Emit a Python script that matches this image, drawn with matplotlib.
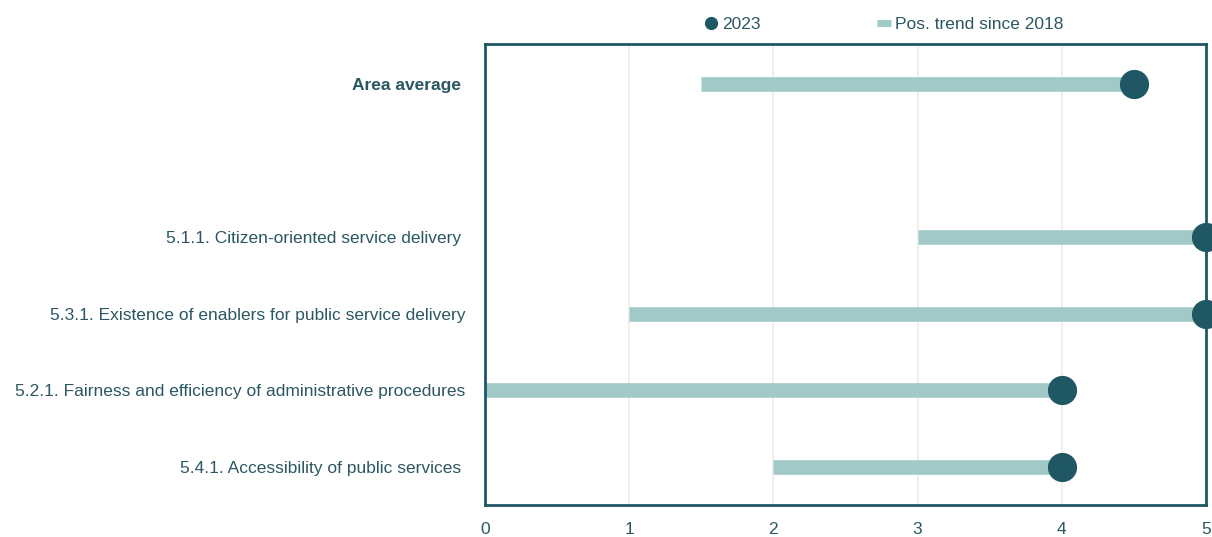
import matplotlib
matplotlib.use("Agg")
import matplotlib.pyplot as plt
from matplotlib.lines import Line2D
from matplotlib import font_manager

names = {f.name for f in font_manager.fontManager.ttflist}
family = "Liberation Sans Narrow" if "Liberation Sans Narrow" in names else "Liberation Sans"
plt.rcParams["font.family"] = [family, "DejaVu Sans"]

labels = [
    "Area average ",
    "5.1.1. Citizen-oriented service delivery ",
    "5.3.1. Existence of enablers for public service delivery",
    "5.2.1. Fairness and efficiency of administrative procedures",
    "5.4.1. Accessibility of public services ",
]
start_2018 = [1.5, 3, 1, 0, 2]
value_2023 = [4.5, 5, 5, 4, 4]
positions = [5, 3, 2, 1, 0]
xticks = [0, 1, 2, 3, 4, 5]

dark = "#1f5765"
light = "#a1c9c8"
text_c = "#2b5763"

fig = plt.figure(figsize=(12.12, 5.37), dpi=100)
ax = fig.add_axes([0.4002, 0.0596, 0.5948, 0.8584])

for y, s, e in zip(positions, start_2018, value_2023):
    ax.plot([s, e], [y, y], color=light, lw=10.5, solid_capstyle="butt", zorder=2, clip_on=False)
    ax.plot([e], [y], "o", color=dark, ms=20, zorder=3, clip_on=False)

ax.set_xlim(0, 5)
ax.set_ylim(-0.5, 5.52)
ax.set_xticks(xticks)
ax.set_xticklabels([str(t) for t in xticks], fontsize=12.5, color=text_c)
ax.set_yticks(positions)
ax.set_yticklabels(labels, fontsize=12.5, color=text_c)
for lbl in ax.get_yticklabels():
    if lbl.get_text().strip() == "Area average":
        lbl.set_fontweight("bold")
ax.tick_params(axis="both", length=0)
ax.tick_params(axis="y", pad=14)
ax.tick_params(axis="x", pad=12)
ax.xaxis.grid(True, color="#ececec", lw=1.2)
ax.set_axisbelow(True)
for sp in ax.spines.values():
    sp.set_color(dark)
    sp.set_linewidth(2)

handles = [
    Line2D([], [], marker="o", color=dark, ls="none", ms=8.5),
    Line2D([], [], color=light, lw=5, solid_capstyle="butt"),
]
fig.legend(handles, ["2023", "Pos. trend since 2018"], loc="center",
           bbox_to_anchor=(0.729, 0.955), ncol=2, frameon=False,
           fontsize=12.5, labelcolor=text_c, handlelength=0.8,
           handletextpad=0.25, columnspacing=6.7)

fig.savefig("out.png", dpi=100)
